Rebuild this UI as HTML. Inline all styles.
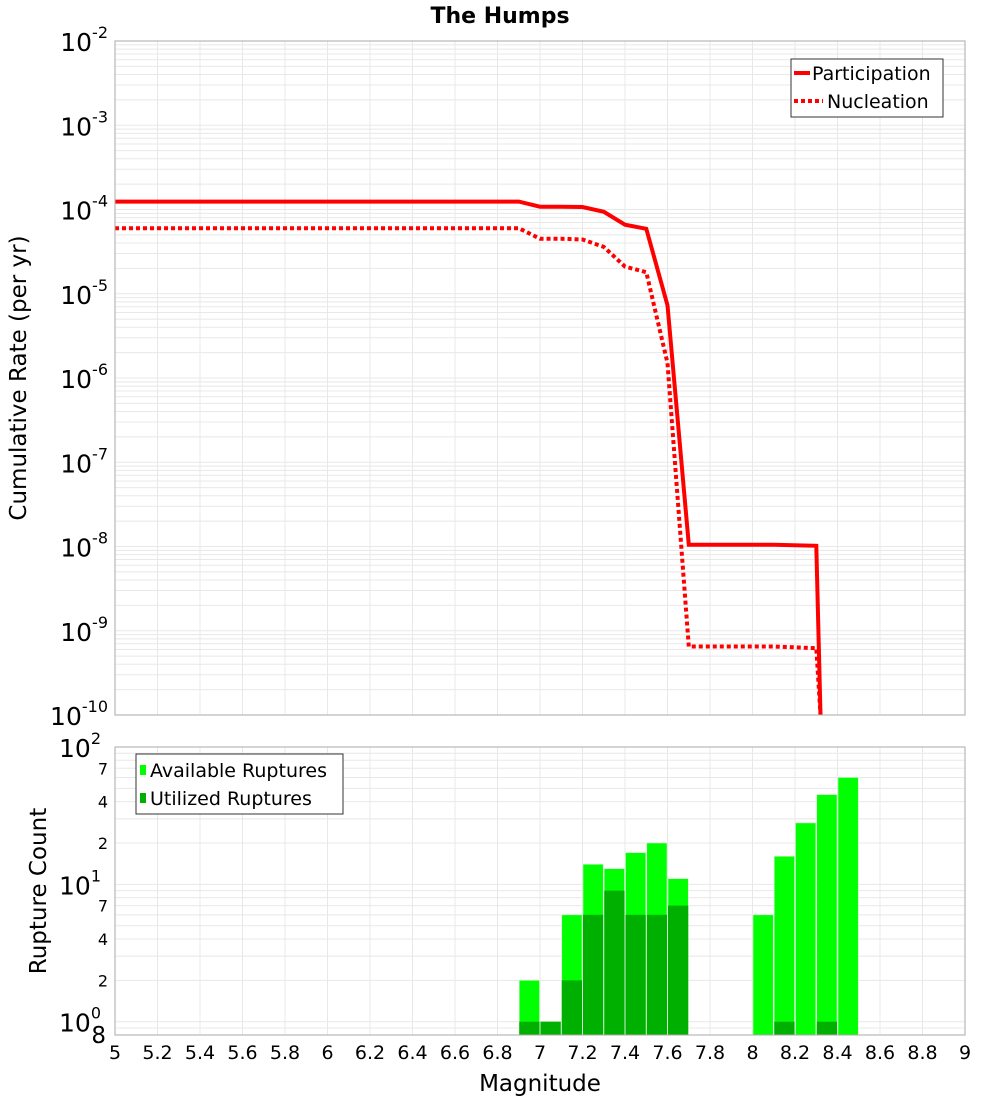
<!DOCTYPE html>
<html><head><meta charset="utf-8"><style>
body{margin:0;background:#fff;}
svg text{font-family:"DejaVu Sans","Liberation Sans",sans-serif;}
</style></head><body>
<svg id="c" width="1000" height="1100" xmlns="http://www.w3.org/2000/svg"></svg>
<script>
const magsP=[5,6.9,7.0,7.1,7.2,7.3,7.4,7.5,7.6,7.7,8.1,8.3,8.32];
const rateP=[1.24e-4,1.24e-4,1.08e-4,1.08e-4,1.07e-4,9.4e-5,6.6e-5,5.9e-5,7.3e-6,1.05e-8,1.05e-8,1.02e-8,1e-10];
const magsN=[5,6.9,7.0,7.1,7.2,7.3,7.4,7.5,7.6,7.7,8.1,8.3,8.32];
const rateN=[6.0e-5,6.0e-5,4.5e-5,4.5e-5,4.4e-5,3.6e-5,2.1e-5,1.8e-5,1.5e-6,6.5e-10,6.5e-10,6.2e-10,1e-10];
const binCenters=[6.95,7.05,7.15,7.25,7.35,7.45,7.55,7.65,8.05,8.15,8.25,8.35,8.45];
const available=[2,1,6,14,13,17,20,11,6,16,28,45,60];
const utilized=[1,1,2,6,9,6,6,7,0,1,0,1,0];
const xTicks=[5,5.2,5.4,5.6,5.8,6,6.2,6.4,6.6,6.8,7,7.2,7.4,7.6,7.8,8,8.2,8.4,8.6,8.8,9];
const topExps=[-2,-3,-4,-5,-6,-7,-8,-9,-10];
const botMinor=[2,4,7,20,40,70];

const svg=document.getElementById('c');
const NS='http://www.w3.org/2000/svg';
function mk(t,a,p){const e=document.createElementNS(NS,t);for(const k in a)e.setAttribute(k,a[k]);(p||svg).appendChild(e);return e;}
const X0=115,X1=965;
const xs=m=>X0+(m-5)/(9-5)*(X1-X0);
const T0=41,T1=715;
const ysT=v=>T0+(-2-Math.log10(v))*(T1-T0)/8;
const B0=747,B1=1035;
const ysB=v=>1021.7-Math.log10(v)*137.35;

let t=mk('text',{x:500,y:23,'text-anchor':'middle','font-size':22,'font-weight':'bold'});t.textContent='The Humps';


const gT=mk('g',{stroke:'#e8e8e8','stroke-width':1});

for(let d=-10;d<-2;d++)for(let k=1;k<10;k++){const y=ysT(k*Math.pow(10,d));mk('line',{x1:X0,x2:X1,y1:y,y2:y},gT);}
const gB=mk('g',{stroke:'#e8e8e8','stroke-width':1});

for(let d=-1;d<2;d++)for(let k=1;k<10;k++){const v=k*Math.pow(10,d);if(v<0.8)continue;const y=ysB(v);mk('line',{x1:X0,x2:X1,y1:y,y2:y},gB);}
xTicks.forEach(m=>{const x=xs(m);mk('line',{x1:x,x2:x,y1:T0,y2:T1},gT);mk('line',{x1:x,x2:x,y1:B0,y2:B1},gB);});

function pts(ms,vs){return ms.map((m,i)=>xs(m).toFixed(1)+','+ysT(vs[i]).toFixed(1)).join(' ');}
let l=mk('polyline',{points:pts(magsN,rateN),fill:'none',stroke:'#ff0000','stroke-width':4,'stroke-dasharray':'4,3'});

l=mk('polyline',{points:pts(magsP,rateP),fill:'none',stroke:'#ff0000','stroke-width':4});


const bw=xs(5.1)-xs(5);
binCenters.forEach((c,i)=>{
  const x=xs(c)-bw/2+0.5;
  if(available[i]>0){const b=mk('rect',{x:x,y:ysB(available[i]),width:bw-1,height:B1-ysB(available[i]),fill:'#00ff00',stroke:'#c8f5c8','stroke-width':0.6});
  }
  if(utilized[i]>0){const b=mk('rect',{x:x,y:ysB(utilized[i]),width:bw-1,height:B1-ysB(utilized[i]),fill:'#00b000'});
  }
});

let f=mk('rect',{x:X0,y:T0,width:X1-X0,height:T1-T0,fill:'none',stroke:'#aaa'});

f=mk('rect',{x:X0,y:B0,width:X1-X0,height:B1-B0,fill:'none',stroke:'#aaa'});


topExps.forEach(e=>{const y=ysT(Math.pow(10,e));
  const tx=mk('text',{x:108,y:y+10,'text-anchor':'end','font-size':25});
  
  tx.textContent='10';const s=mk('tspan',{dy:-13,'font-size':16},tx);s.textContent=String(e);
});
[[100,'2'],[10,'1'],[1,'0']].forEach(([v,e])=>{const y=ysB(v);
  const tx=mk('text',{x:101,y:y+10,'text-anchor':'end','font-size':25});
  
  tx.textContent='10';const s=mk('tspan',{dy:-13,'font-size':16},tx);s.textContent=e;
});
botMinor.forEach(v=>{const tx=mk('text',{x:108,y:ysB(v)+6,'text-anchor':'end','font-size':16});
  
  tx.textContent=String(v).charAt(0);});
t=mk('text',{x:106,y:1043,'text-anchor':'end','font-size':23});t.textContent='8';


xTicks.forEach(m=>{const tx=mk('text',{x:xs(m),y:1059,'text-anchor':'middle','font-size':19});
  
  tx.textContent=String(m);});
t=mk('text',{x:540,y:1091,'text-anchor':'middle','font-size':23});t.textContent='Magnitude';

t=mk('text',{x:0,y:0,'text-anchor':'middle','font-size':23,transform:'translate(26,378) rotate(-90)'});t.textContent='Cumulative Rate (per yr)';

t=mk('text',{x:0,y:0,'text-anchor':'middle','font-size':23,transform:'translate(46,891) rotate(-90)'});t.textContent='Rupture Count';


let lg=mk('g',{});
mk('rect',{x:791,y:59,width:152,height:58,fill:'#fff',stroke:'#333'},lg);
mk('line',{x1:794,x2:810,y1:73,y2:73,stroke:'#f00','stroke-width':4},lg);
mk('line',{x1:794,x2:823,y1:101,y2:101,stroke:'#f00','stroke-width':4,'stroke-dasharray':'4,3'},lg);
t=mk('text',{x:812,y:80,'font-size':19},lg);t.textContent='Participation';

t=mk('text',{x:827,y:108,'font-size':19},lg);t.textContent='Nucleation';

lg=mk('g',{});
mk('rect',{x:136,y:754,width:207,height:60,fill:'#fff',stroke:'#333'},lg);
mk('rect',{x:140,y:765,width:6,height:10,fill:'#00ff00'},lg);
mk('rect',{x:140,y:793,width:6,height:10,fill:'#00b000'},lg);
t=mk('text',{x:150,y:777,'font-size':19},lg);t.textContent='Available Ruptures';

t=mk('text',{x:150,y:805,'font-size':19},lg);t.textContent='Utilized Ruptures';

</script>
</body></html>
